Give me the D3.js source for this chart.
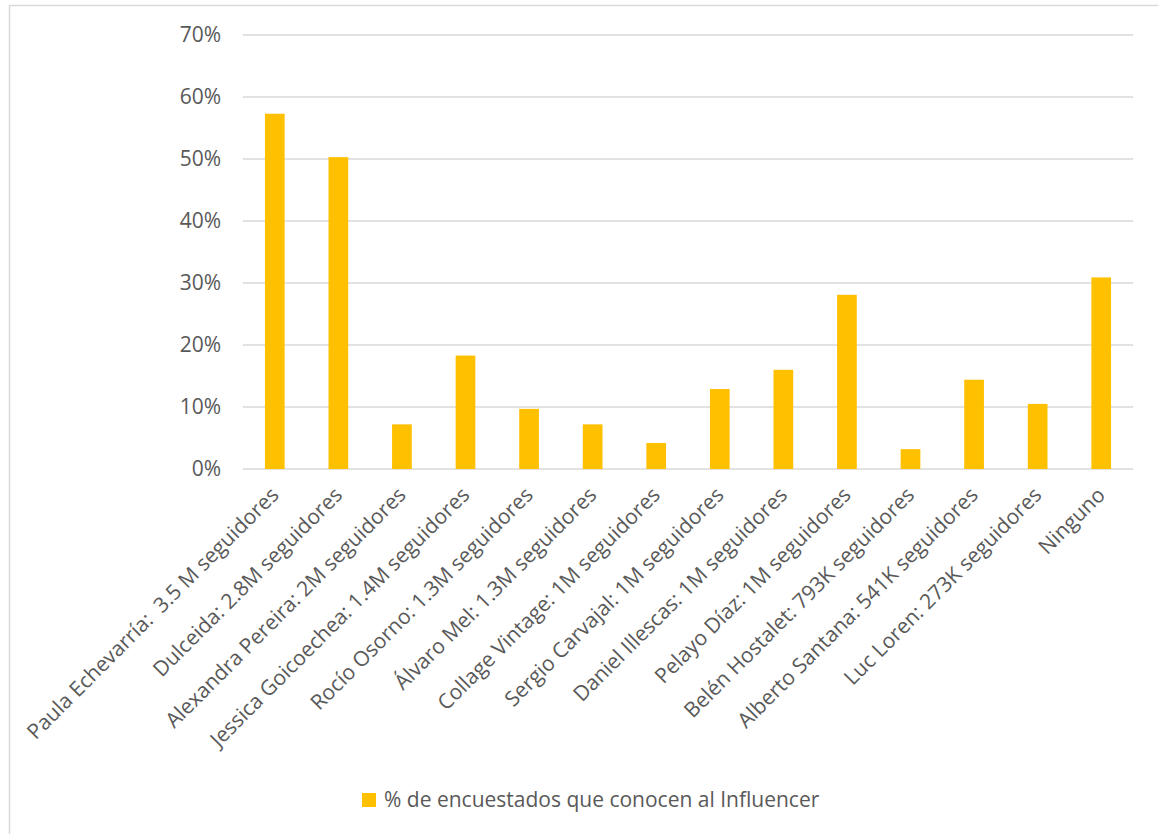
<!DOCTYPE html>
<html>
<head>
<meta charset="utf-8">
<script src="https://cdn.jsdelivr.net/npm/d3@7"></script>
<style>
  body { margin: 0; background: #fff; }
  text { font-family: "Open Sans", "Liberation Sans", sans-serif; fill: #595959; white-space: pre; }
</style>
</head>
<body>
<div id="chart"></div>
<script>
// data
const categories = [
  "Paula Echevarría:  3.5 M seguidores",
  "Dulceida: 2.8M seguidores",
  "Alexandra Pereira: 2M seguidores",
  "Jessica Goicoechea: 1.4M seguidores",
  "Rocío Osorno: 1.3M seguidores",
  "Álvaro Mel: 1.3M seguidores",
  "Collage Vintage: 1M seguidores",
  "Sergio Carvajal: 1M seguidores",
  "Daniel Illescas: 1M seguidores",
  "Pelayo Díaz: 1M seguidores",
  "Belén Hostalet: 793K seguidores",
  "Alberto Santana: 541K seguidores",
  "Luc Loren: 273K seguidores",
  "Ninguno"
];
const values = [0.573, 0.503, 0.072, 0.183, 0.097, 0.072, 0.042, 0.129, 0.160, 0.281, 0.032, 0.144, 0.105, 0.309];
const yTicks = [0, 0.1, 0.2, 0.3, 0.4, 0.5, 0.6, 0.7];
const seriesName = "% de encuestados que conocen al Influencer";

const W = 1158, H = 834;
const margin = {top: 35, left: 243, right: 25, bottom: 365};
const font = "'Open Sans', 'Liberation Sans', sans-serif";

const svg = d3.select("#chart").append("svg")
  .attr("width", W)
  .attr("height", H);

// chart frame (cropped on right and bottom)
svg.append("path")
  .attr("d", "M9.5," + H + "V5.5H" + W)
  .attr("fill", "none")
  .attr("stroke", "#d9d9d9")
  .attr("stroke-width", 1.5);

const x = d3.scaleBand()
  .domain(categories)
  .range([margin.left, W - margin.right])
  .paddingInner(0.69)
  .paddingOuter(0.345);

const y = d3.scaleLinear()
  .domain([0, 0.7])
  .range([H - margin.bottom, margin.top]);

// gridlines
svg.append("g")
  .selectAll("line")
  .data(yTicks)
  .join("line")
  .attr("x1", margin.left)
  .attr("x2", W - margin.right)
  .attr("y1", d => y(d))
  .attr("y2", d => y(d))
  .attr("stroke", "#d9d9d9")
  .attr("stroke-width", 1.3);

// y axis labels
const yAxis = d3.axisLeft(y)
  .tickValues(yTicks)
  .tickFormat(d3.format(".0%"))
  .tickSize(0)
  .tickPadding(22);

svg.append("g")
  .attr("transform", "translate(" + margin.left + ",0)")
  .call(yAxis)
  .call(g => g.select(".domain").remove())
  .selectAll("text")
  .attr("font-size", 21)
  .style("font-family", font)
  .attr("fill", "#595959");

// bars
svg.append("g")
  .selectAll("rect")
  .data(values)
  .join("rect")
  .attr("x", (d, i) => x(categories[i]))
  .attr("y", d => y(d))
  .attr("width", x.bandwidth())
  .attr("height", d => y(0) - y(d))
  .attr("fill", "#ffc000");

// x axis labels, rotated
const xAxis = d3.axisBottom(x).tickSize(0).tickPadding(0);
svg.append("g")
  .attr("transform", "translate(0," + (y(0) + 22) + ")")
  .call(xAxis)
  .call(g => g.select(".domain").remove())
  .selectAll("text")
  .attr("font-size", 21)
  .style("font-family", font)
  .attr("fill", "#595959")
  .attr("text-anchor", "end")
  .attr("dy", "0.35em")
  .attr("transform", "translate(0,0) rotate(-45)");

// legend
const legend = svg.append("g")
  .attr("transform", "translate(362,793)");
legend.append("rect")
  .attr("width", 14)
  .attr("height", 14)
  .attr("fill", "#ffc000");
legend.append("text")
  .attr("x", 22)
  .attr("y", 7)
  .attr("dy", "0.35em")
  .attr("font-size", 21)
  .style("font-family", font)
  .text(seriesName);
</script>
</body>
</html>
